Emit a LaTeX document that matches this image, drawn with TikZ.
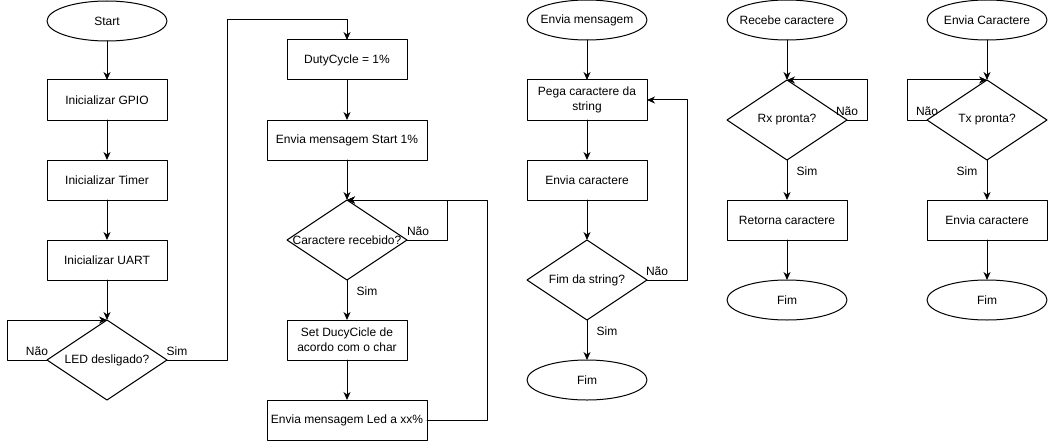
\documentclass[tikz,border=0pt]{standalone}
\usepackage{fontspec}
\setmainfont{Liberation Sans}
\usetikzlibrary{shapes.geometric,arrows.meta}

\begin{document}
\begin{tikzpicture}[x=1pt,y=-1pt,line cap=round,line join=round,
  font=\fontsize{12}{15}\selectfont,
  every node/.style={inner sep=0pt,outer sep=0pt},
  terminal/.style={draw,ellipse,line width=1pt,minimum width=120pt,minimum height=40pt},
  process/.style={draw,rectangle,line width=1pt,minimum width=120pt,minimum height=40pt,align=center},
  decision/.style={draw,diamond,line width=1pt,minimum width=120pt,minimum height=80pt},
  flow/.style={line width=1pt,-{Stealth[length=8pt,width=7pt,inset=2.5pt]}}]

\useasboundingbox (0,0) rectangle (1048,441);

% Main program
\node[terminal,label={center:Start}] (start) at (107,21) {};
\node[process] (gpio) at (107,100) {Inicializar GPIO};
\node[process] (timer) at (107,180) {Inicializar Timer};
\node[process] (uart) at (107,260) {Inicializar UART};
\node[decision,label={center:LED desligado?}] (led) at (107,360) {};

\coordinate (ledloop) at (7,360);
\coordinate (jump) at (227,20);

\draw[flow] (start) -- (gpio);
\draw[flow] (gpio) -- (timer);
\draw[flow] (timer) -- (uart);
\draw[flow] (uart) -- (led);
\draw[flow] (led.west) -- (ledloop) |- (led.north);

%-----------------------------------------------
% Duty cycle loop
\node[process] (duty) at (347,60) {DutyCycle = 1\%};
\node[process,minimum width=160pt] (startmsg) at (347,140) {Envia mensagem Start 1\%};
\node[decision,label={center:Caractere recebido?}] (car) at (347,240) {};
\node[process] (setduty) at (347,340) {Set DucyCicle de\\acordo com o char};
\node[process,minimum width=160pt] (ledmsg) at (347,420) {Envia mensagem Led a xx\%};

\coordinate (carloop) at (447,200);
\coordinate (msgloop) at (487,200);

\draw[flow] (led.east) -| (jump) -| (duty.north);
\draw[flow] (duty) -- (startmsg);
\draw[flow] (startmsg) -- (car);
\draw[flow] (car.east) -| (carloop) -- (car.north);
\draw[flow] (car) -- (setduty);
\draw[flow] (setduty) -- (ledmsg);
\draw[flow] (ledmsg.east) -| (msgloop) -- (car.north);

%-----------------------------------------------
% Envia mensagem
\node[terminal,label={center:Envia mensagem}] (sendmsg) at (587,20) {};
\node[process] (pega) at (587,100) {Pega caractere da\\string};
\node[process] (sendchar) at (587,180) {Envia caractere};
\node[decision,label={center:Fim da string?}] (fimstr) at (587,280) {};
\node[terminal,label={center:Fim}] (fimmsg) at (587,380) {};

\coordinate (strloop) at (687,280);

\draw[flow] (sendmsg) -- (pega);
\draw[flow] (pega) -- (sendchar);
\draw[flow] (sendchar) -- (fimstr);
\draw[flow] (fimstr.east) -- (strloop) |- (pega.east);
\draw[flow] (fimstr) -- (fimmsg);

%-----------------------------------------------
% Recebe caractere
\node[terminal,label={center:Recebe caractere}] (getchar) at (787,20) {};
\node[decision,label={center:Rx pronta?}] (rx) at (787,120) {};
\node[process] (retchar) at (787,220) {Retorna caractere};
\node[terminal,label={center:Fim}] (fimrx) at (787,300) {};

\coordinate (rxloop) at (867,80);

\draw[flow] (getchar) -- (rx);
\draw[flow] (rx.east) -| (rxloop) -- (rx.north);
\draw[flow] (rx) -- (retchar);
\draw[flow] (retchar) -- (fimrx);

%-----------------------------------------------
% Envia Caractere
\node[terminal,label={center:Envia Caractere}] (putchar) at (987,20) {};
\node[decision,label={center:Tx pronta?}] (tx) at (987,120) {};
\node[process] (txchar) at (987,220) {Envia caractere};
\node[terminal,label={center:Fim}] (fimtx) at (987,300) {};

\coordinate (txloop) at (907,80);

\draw[flow] (putchar) -- (tx);
\draw[flow] (tx.west) -| (txloop) -- (tx.north);
\draw[flow] (tx) -- (txchar);
\draw[flow] (txchar) -- (fimtx);

%-----------------------------------------------
% Branch labels
\foreach \name/\x/\y/\answer in {ledno/37/351/Não, ledyes/177/351/Sim,
  carno/418/231/Não, caryes/367/291/Sim, strno/657/271/Não, stryes/607/331/Sim,
  rxno/847/111/Não, rxyes/807/171/Sim, txno/927/111/Não, txyes/967/171/Sim}
{
  \node (\name) at (\x,\y) {\answer};
}

\end{tikzpicture}
\end{document}
